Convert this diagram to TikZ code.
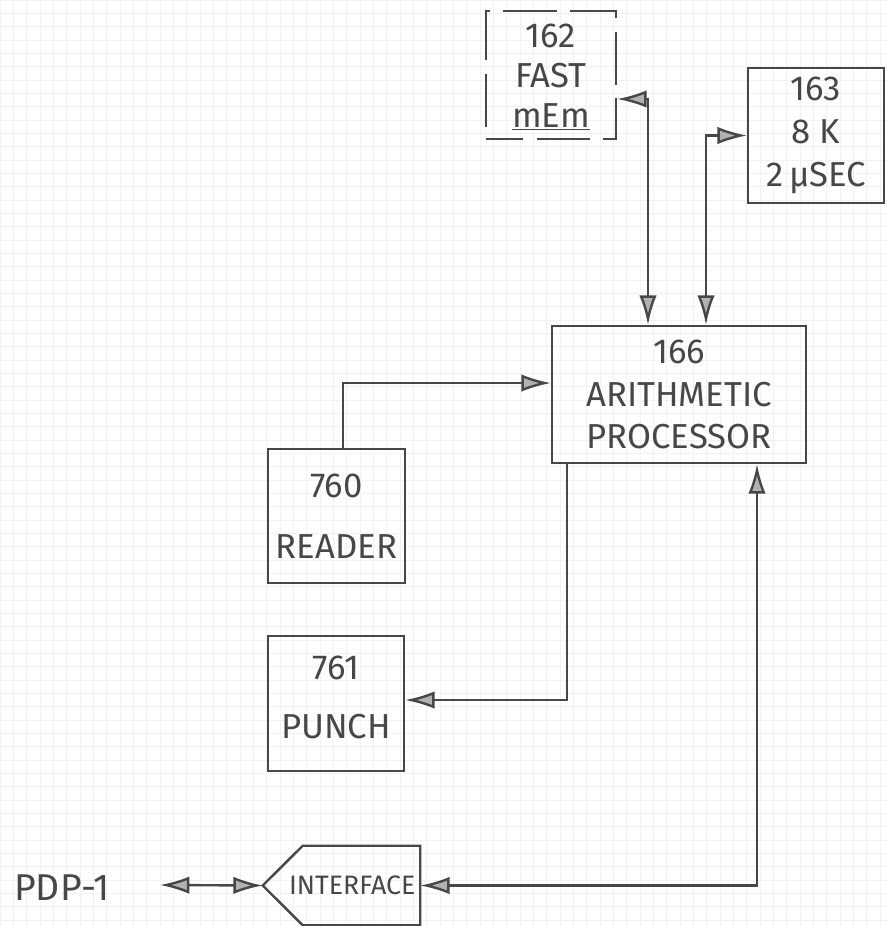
\documentclass[tikz,border=0pt]{standalone}
\usepackage{fontspec}
\setmainfont{Fira Sans}
\usetikzlibrary{arrows.meta}
\colorlet{pencil}{black!72}
\colorlet{tipfill}{black!30}
\colorlet{paperline}{black!5}
\tikzset{
  block/.style={draw=pencil, line width=1.8pt, text=pencil, align=center,
    font=\fontsize{26}{32}\selectfont, inner sep=0pt},
  link/.style={draw=pencil, line width=1.8pt},
  >={Latex[length=22pt,width=13pt,fill=tipfill]}
}

\begin{document}
\begin{tikzpicture}[x=0.75pt,y=-0.75pt]
  \useasboundingbox[fill=white] (0,0) rectangle (887,926);
  \draw[paperline, step=10pt] (0,0) grid (887,926);
  % memories
  \node[block, font=\fontsize{26}{30}\selectfont, dash pattern=on 40pt off 10pt, dash phase=12pt,
    minimum width=97.5pt, minimum height=96pt] (fastmem) at (551,75) {\strut 162\\FAST\\\underline{mEm}};
  \node[block, minimum width=102pt, minimum height=101.25pt] (core) at (816,135.5) {163\\8 K\\2\,μSEC};
  % processor
  \node[block, minimum width=190.5pt, minimum height=102.75pt] (arith) at (679,394.5) {166\\ARITHMETIC\\PROCESSOR};
  % paper tape
  \node[block, minimum width=102.75pt, minimum height=100.5pt] (reader) at (336.5,516) {760\\[14pt]READER};
  \node[block, minimum width=102pt, minimum height=101.25pt] (punch) at (336,703.5) {761\\[12pt]PUNCH\\[-23pt]\mbox{}};
  % link to the pdp-1
  \node[text=pencil, font=\fontsize{20}{24}\selectfont, inner sep=0pt,
    minimum width=117.75pt, minimum height=59.25pt] (iface) at (341.5,885.5) {\hspace{16pt}INTERFACE};
  \draw[link] (iface.west) -- ([xshift=30pt]iface.north west) -- (iface.north east)
    -- (iface.south east) -- ([xshift=30pt]iface.south west) -- cycle;
  \node[text=pencil, font=\fontsize{28}{32}\selectfont] (pdp) at (62,888) {PDP-1};
  \coordinate (pdpend) at (160,885);

  \draw[link,<->] ([yshift=-18pt]fastmem.east) -| ([xshift=-23.25pt]arith.north);
  \draw[link,<->] ([xshift=20.25pt]arith.north) |- (core.west);
  \draw[link,->] ([xshift=5pt]reader.north) |- ([yshift=8.6pt]arith.west);
  \draw[link,->] ([xshift=-84pt]arith.south) |- ([yshift=2.6pt]punch.east);
  \draw[link,<->] (iface.east) -| ([xshift=58.5pt]arith.south);
  \draw[link,<->] (pdpend) -- (iface.west);
\end{tikzpicture}
\end{document}
